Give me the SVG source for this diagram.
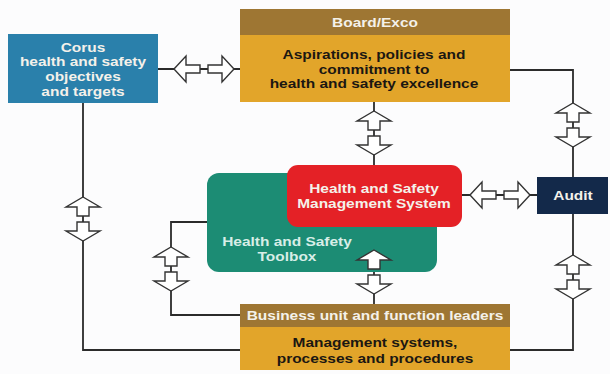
<svg xmlns="http://www.w3.org/2000/svg" xmlns:xlink="http://www.w3.org/1999/xlink" width="610" height="374" viewBox="0 0 610 374">
  <style>
    .lbl { font-family: "Liberation Sans", Arial, sans-serif; font-weight: bold; font-size: 13px; text-anchor: middle; }
    .light { fill: #f4f1ea; }
    .dark { fill: #1b1712; }
    .teal-txt { fill: #d8eee7; }
    .wire { fill: none; stroke: #2b2b2b; stroke-width: 1.8; }
    .arr { fill: #ffffff; stroke: #333333; stroke-width: 1.4; stroke-linejoin: miter; }
  </style>
  <defs>
    <!-- hollow double block arrow, vertical -->
    <g id="vArrow">
      <polygon class="arr" points="0,-22 17,-12 6,-12 6,-3 -6,-3 -6,-12 -17,-12"/>
      <polygon class="arr" points="-6,3 6,3 6,12 17,12 0,22 -17,12 -6,12"/>
    </g>
    <!-- hollow double block arrow, horizontal -->
    <g id="hArrow">
      <polygon class="arr" points="-30,0 -18,-13 -18,-4 -4,-4 -4,4 -18,4 -18,13"/>
      <polygon class="arr" points="4,-4 18,-4 18,-13 30,0 18,13 18,4 4,4"/>
    </g>
  </defs>

  <rect x="0" y="0" width="610" height="374" fill="#fcfcfd"/>

  <!-- connectors -->
  <g id="connectors">
    <line class="wire" x1="158" y1="69" x2="240" y2="69"/>
    <line class="wire" x1="374" y1="102" x2="374" y2="165"/>
    <path class="wire" d="M510,70 H573 V177"/>
    <line class="wire" x1="462" y1="195" x2="537" y2="195"/>
    <line class="wire" x1="374" y1="227" x2="374" y2="304"/>
    <path class="wire" d="M510,350 H573 V214"/>
    <path class="wire" d="M83,103 V350 H240"/>
    <path class="wire" d="M207,222 H171 V315 H240"/>
  </g>

  <g id="corus">
    <rect x="8" y="34" width="150" height="69" fill="#2a80ab"/>
    <g class="lbl light" fill="#eef3f7">
      <text transform="translate(83,52) scale(1.19,1)">Corus</text>
      <text transform="translate(83,66) scale(1.19,1)">health and safety</text>
      <text transform="translate(83,81) scale(1.19,1)">objectives</text>
      <text transform="translate(83,96) scale(1.19,1)">and targets</text>
    </g>
  </g>

  <g id="board">
    <rect x="240" y="9" width="270" height="26" fill="#9e7633"/>
    <rect x="240" y="35" width="270" height="67" fill="#e2a52a"/>
    <text class="lbl light" transform="translate(375,27) scale(1.19,1)">Board/Exco</text>
    <text class="lbl dark" transform="translate(374,59) scale(1.19,1)">Aspirations, policies and</text>
    <text class="lbl dark" transform="translate(374,74) scale(1.19,1)">commitment to</text>
    <text class="lbl dark" transform="translate(374,88) scale(1.19,1)">health and safety excellence</text>
  </g>

  <g id="toolbox">
    <rect x="207" y="173" width="230" height="99" rx="12" fill="#1c8c74"/>
    <text class="lbl teal-txt" transform="translate(287,246) scale(1.19,1)">Health and Safety</text>
    <text class="lbl teal-txt" transform="translate(287,261) scale(1.19,1)">Toolbox</text>
  </g>

  <g id="hsms">
    <rect x="287" y="165" width="175" height="62" rx="11" fill="#e42126"/>
    <text class="lbl light" transform="translate(374,193) scale(1.19,1)">Health and Safety</text>
    <text class="lbl light" transform="translate(374,208) scale(1.19,1)">Management System</text>
  </g>

  <g id="audit">
    <rect x="537" y="177" width="71" height="37" fill="#13294a"/>
    <text class="lbl light" transform="translate(573,200) scale(1.19,1)">Audit</text>
  </g>

  <g id="business">
    <rect x="240" y="304" width="270" height="23" fill="#9e7633"/>
    <rect x="240" y="327" width="270" height="43" fill="#e2a52a"/>
    <text class="lbl light" transform="translate(375,320) scale(1.19,1)">Business unit and function leaders</text>
    <text class="lbl dark" transform="translate(375,347) scale(1.19,1)">Management systems,</text>
    <text class="lbl dark" transform="translate(375,363) scale(1.19,1)">processes and procedures</text>
  </g>

  <!-- arrow markers on the connectors -->
  <g id="arrows">
    <use xlink:href="#hArrow" transform="translate(204,69)"/>
    <use xlink:href="#vArrow" transform="translate(374,133)"/>
    <use xlink:href="#vArrow" transform="translate(573,125)"/>
    <use xlink:href="#hArrow" transform="translate(500,195)"/>
    <use xlink:href="#vArrow" transform="translate(374,272)"/>
    <use xlink:href="#vArrow" transform="translate(573,277)"/>
    <use xlink:href="#vArrow" transform="translate(83,219)"/>
    <use xlink:href="#vArrow" transform="translate(171,269)"/>
  </g>
</svg>
